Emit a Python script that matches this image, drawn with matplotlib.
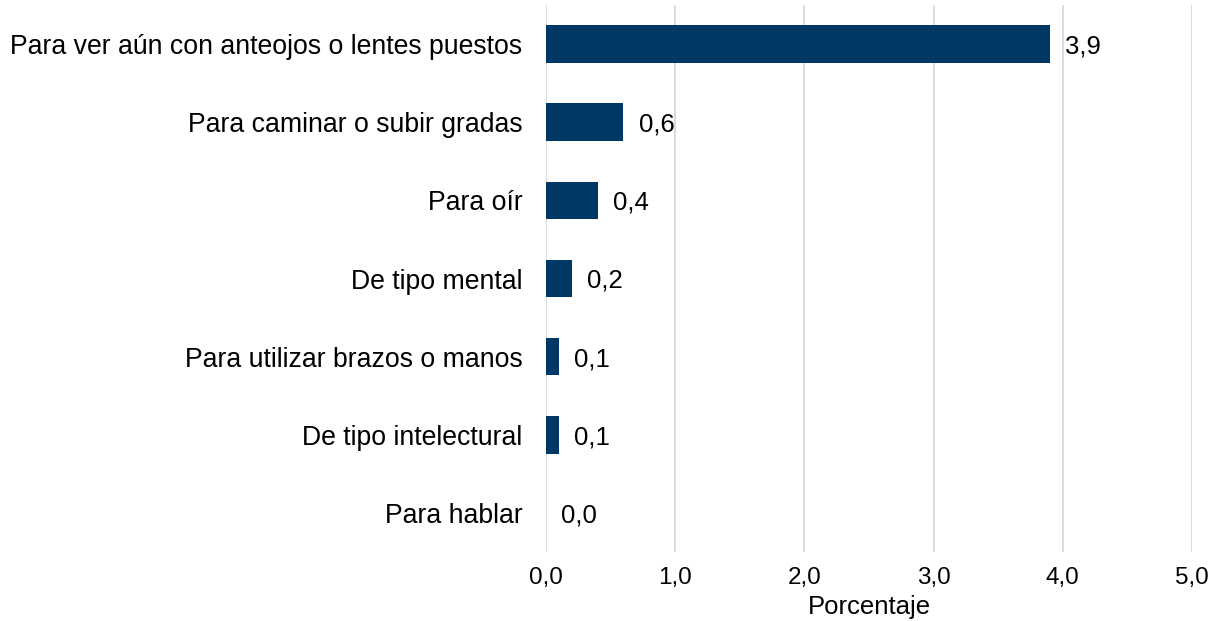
import matplotlib.pyplot as plt
from matplotlib.ticker import FuncFormatter

plt.rcParams['font.family'] = ['Liberation Sans', 'DejaVu Sans']

categorias = ['Para ver aún con anteojos o lentes puestos',
              'Para caminar o subir gradas',
              'Para oír',
              'De tipo mental',
              'Para utilizar brazos o manos',
              'De tipo intelectural',
              'Para hablar']
valores = [3.9, 0.6, 0.4, 0.2, 0.1, 0.1, 0.0]

fig = plt.figure(figsize=(12.2, 6.21), dpi=100)
ax = fig.add_axes([0.4475, 0.111, 0.5295, 0.881])

pos = list(range(len(categorias)))
ax.barh(pos, valores, height=0.48, color='#003865', zorder=3)
for p, v in zip(pos, valores):
    ax.text(v + 0.12, p + 0.03, f'{v:.1f}'.replace('.', ','), va='center', ha='left',
            fontsize=18.5, color='black')

ax.set_ylim(6.5, -0.5)
ax.set_xlim(0, 5)
ax.set_yticks(pos)
ax.set_yticklabels(categorias, fontsize=19.2)
ax.set_xticks([0, 1, 2, 3, 4, 5])
ax.xaxis.set_major_formatter(FuncFormatter(lambda x, _: f'{x:.1f}'.replace('.', ',')))
ax.tick_params(axis='x', labelsize=17.5, length=0, pad=11)
ax.tick_params(axis='y', length=0, pad=17)
ax.set_xlabel('Porcentaje', fontsize=18.5, labelpad=4)
ax.grid(axis='x', color='#d9d9d9', linewidth=1.3, zorder=0)
for s in ax.spines.values():
    s.set_visible(False)

fig.savefig('out.png', dpi=100)
